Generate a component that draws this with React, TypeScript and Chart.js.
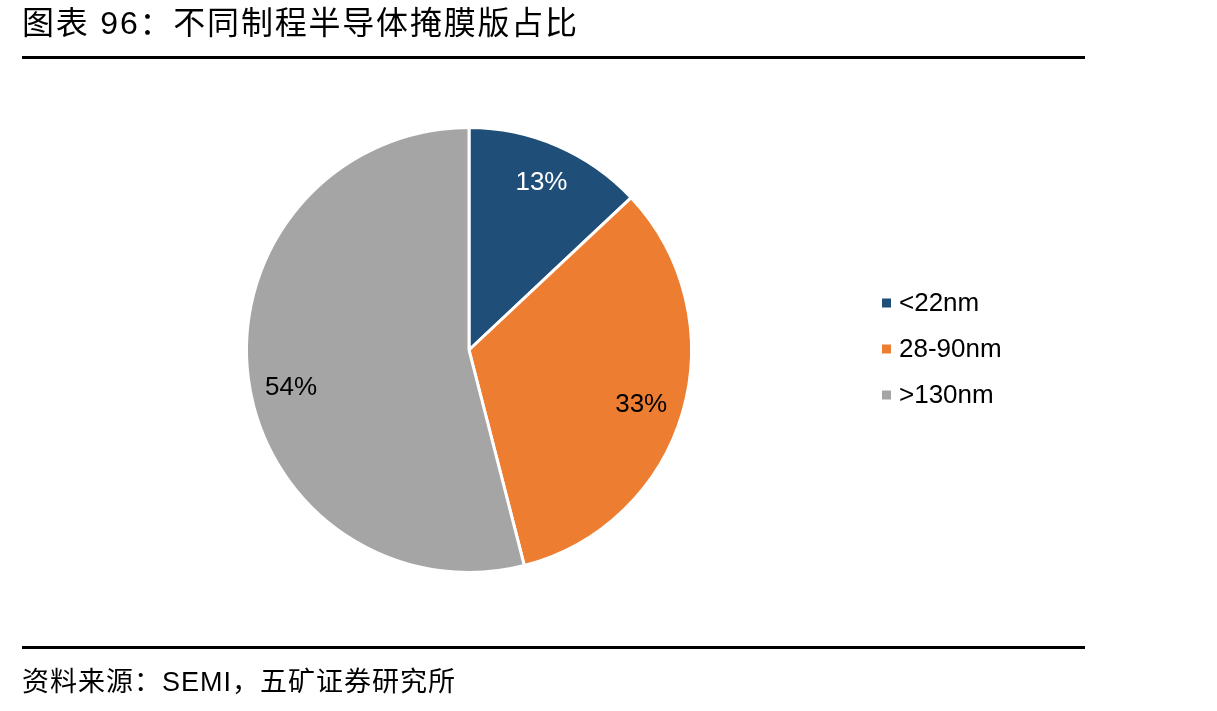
import React, { useEffect, useRef } from "react";
import { Chart, registerables } from "chart.js";

Chart.register(...registerables);

const categories = ["<22nm", "28-90nm", ">130nm"];
const shares = [13, 33, 54];
const colors = ["#1F4E79", "#ED7D31", "#A5A5A5"];
const labelColors = ["#FFFFFF", "#000000", "#000000"];
const labelNudge = [[0, 0], [-3, 4], [3, 15]];
const titleText = "图表 96：不同制程半导体掩膜版占比";
const sourceText = "资料来源：SEMI，五矿证券研究所";

const FONT = '"Liberation Sans", Arial, "Noto Sans CJK SC", sans-serif';

const labelPlugin = {
  id: "pieLabels",
  afterDatasetsDraw(chart: any) {
    const ctx = chart.ctx;
    const meta = chart.getDatasetMeta(0);
    ctx.save();
    ctx.font = `26px ${FONT}`;
    ctx.textAlign = "center";
    ctx.textBaseline = "middle";
    meta.data.forEach((arc: any, i: number) => {
      const { x, y, startAngle, endAngle, outerRadius } = arc.getProps(
        ["x", "y", "startAngle", "endAngle", "outerRadius"],
        true
      );
      const mid = (startAngle + endAngle) / 2;
      const r = outerRadius * 0.82;
      ctx.fillStyle = labelColors[i];
      ctx.fillText(
        `${shares[i]}%`,
        x + Math.cos(mid) * r + labelNudge[i][0],
        y + Math.sin(mid) * r + labelNudge[i][1]
      );
    });
    ctx.restore();
  },
};

const legendPlugin = {
  id: "customLegend",
  afterDraw(chart: any) {
    const ctx = chart.ctx;
    ctx.save();
    ctx.font = `26px ${FONT}`;
    ctx.textAlign = "left";
    ctx.textBaseline = "middle";
    categories.forEach((c, i) => {
      const cy = 303 + i * 46;
      ctx.fillStyle = colors[i];
      ctx.fillRect(882, cy - 4.5, 9, 9);
      ctx.fillStyle = "#000000";
      ctx.fillText(c, 899, cy + 1);
    });
    ctx.restore();
  },
};

export default function App() {
  const ref = useRef<HTMLCanvasElement>(null);
  useEffect(() => {
    if (!ref.current) return;
    const chart = new Chart(ref.current, {
      type: "pie",
      data: {
        labels: categories,
        datasets: [
          {
            data: shares,
            backgroundColor: colors,
            borderColor: "#FFFFFF",
            borderWidth: 3,
          },
        ],
      },
      options: {
        responsive: false,
        animation: false,
        layout: { padding: { left: 245, right: 524, top: 126, bottom: 137 } },
        plugins: {
          legend: { display: false },
          tooltip: { enabled: false },
        },
      },
      plugins: [labelPlugin, legendPlugin],
    });
    return () => chart.destroy();
  }, []);

  return (
    <div
      style={{
        position: "absolute",
        left: 0,
        top: 0,
        width: 1217,
        height: 711,
        background: "#FFFFFF",
        overflow: "hidden",
      }}
    >
      <canvas
        ref={ref}
        width={1217}
        height={711}
        style={{ position: "absolute", left: 0, top: 0, width: 1217, height: 711 }}
      />
      <div
        style={{
          position: "absolute",
          left: 22,
          top: 5,
          fontFamily: FONT,
          fontSize: 32,
          lineHeight: "36px",
          letterSpacing: 1.8,
          color: "#000",
          whiteSpace: "nowrap",
        }}
      >
        {titleText}
      </div>
      <div style={{ position: "absolute", left: 22, top: 56, width: 1063, height: 3, background: "#000" }} />
      <div style={{ position: "absolute", left: 22, top: 646, width: 1063, height: 3, background: "#000" }} />
      <div
        style={{
          position: "absolute",
          left: 22,
          top: 666,
          fontFamily: FONT,
          fontSize: 27,
          lineHeight: "32px",
          letterSpacing: 1,
          color: "#000",
          whiteSpace: "nowrap",
        }}
      >
        {sourceText}
      </div>
    </div>
  );
}
